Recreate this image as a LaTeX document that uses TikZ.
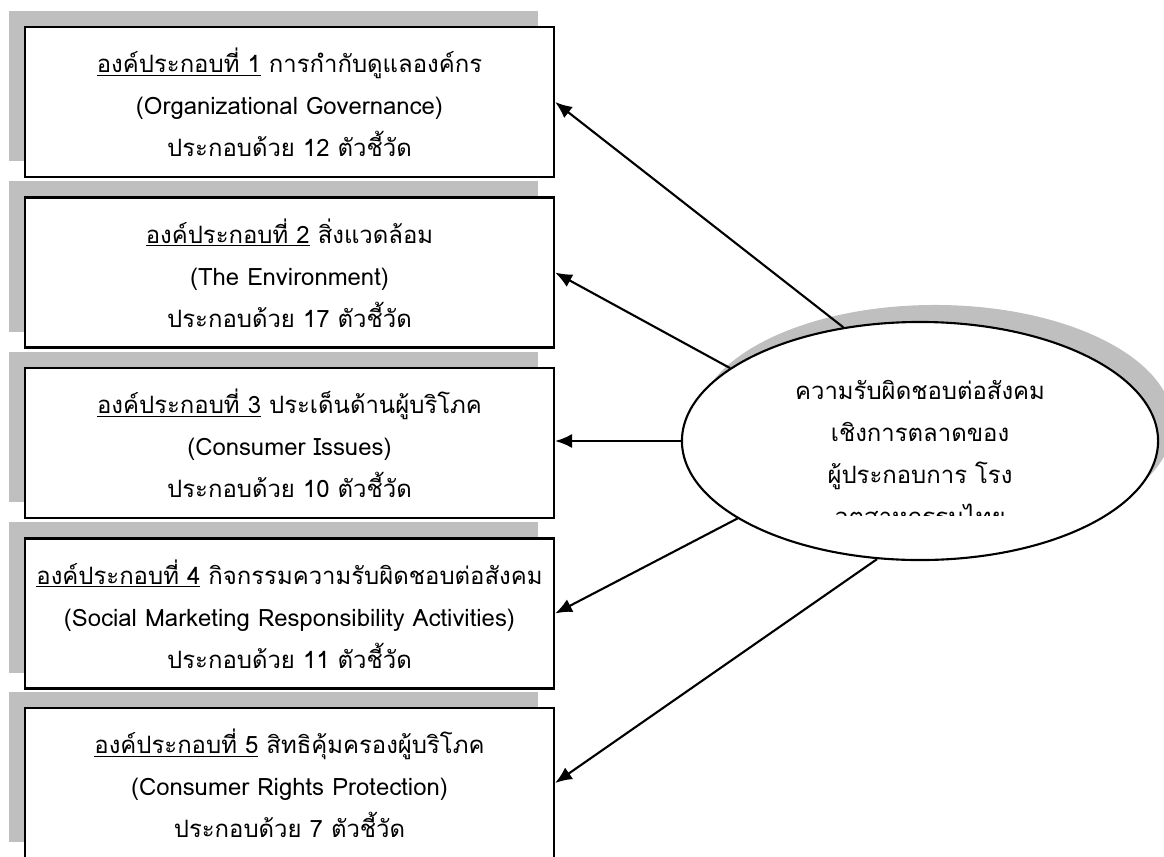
\documentclass[tikz,border=0pt]{standalone}
\usepackage{fontspec}
\newfontfamily\thaifont[Script=Thai]{Loma}
\usetikzlibrary{shapes.geometric,shadows,arrows.meta}

\tikzset{
	factorbox/.style={draw, line width=1.5pt, fill=white, minimum width=13.225cm, minimum height=3.75cm, align=center, text height=82pt, text depth=4pt, font=\thaifont\fontsize{17}{29.9}\selectfont, drop shadow={shadow xshift=-0.4cm, shadow yshift=0.4cm, fill=black!25, opacity=1}},
	mainellipse/.style={ellipse, draw, line width=1.5pt, fill=white, minimum width=11.9cm, minimum height=5.95cm, drop shadow={shadow xshift=0.375cm, shadow yshift=0.425cm, fill=black!25, opacity=1}},
	linkarrow/.style={line width=1.5pt, -{Latex[length=12pt,width=10pt]}}
}

\begin{document}
\begin{tikzpicture}[x=0.025cm, y=-0.025cm]
			%%%%% START %%%%%
			\useasboundingbox (0, 0) rectangle (1164, 856);
			
			\node[factorbox] (fac1) at (289.5, 102) {\underline{องค์ประกอบที่ 1} การกำกับดูแลองค์กร\\(Organizational Governance)\\ประกอบด้วย 12 ตัวชี้วัด};
			\node[factorbox] (fac2) at (289.5, 272.5) {\underline{องค์ประกอบที่ 2} สิ่งแวดล้อม\\(The Environment)\\ประกอบด้วย 17 ตัวชี้วัด};
			\node[factorbox] (fac3) at (289.5, 443) {\underline{องค์ประกอบที่ 3} ประเด็นด้านผู้บริโภค\\(Consumer Issues)\\ประกอบด้วย 10 ตัวชี้วัด};
			\node[factorbox] (fac4) at (289.5, 613.5) {\underline{องค์ประกอบที่ 4} กิจกรรมความรับผิดชอบต่อสังคม\\(Social Marketing Responsibility Activities)\\ประกอบด้วย 11 ตัวชี้วัด};
			\node[factorbox] (fac5) at (289.5, 783) {\underline{องค์ประกอบที่ 5} สิทธิคุ้มครองผู้บริโภค\\(Consumer Rights Protection)\\ประกอบด้วย 7 ตัวชี้วัด};
			
			\node[mainellipse] (csr) at (920, 441) {};
			\begin{scope}
				\clip (680, 300) rectangle (1160, 515);
				\node[align=center, font=\thaifont\fontsize{17}{29.9}\selectfont] (csrtext) at (920, 456) {ความรับผิดชอบต่อสังคม\\เชิงการตลาดของ\\ผู้ประกอบการ โรง\\อุตสาหกรรมไทย};
			\end{scope}
			
			\draw[linkarrow] (csr.124.3) -- (fac1.east);
			\draw[linkarrow] (csr.159.1) -- (fac2.east);
			\draw[linkarrow] (csr.west) -- (csr.west -| fac3.east);
			\draw[linkarrow] (csr.203.9) -- (fac4.east);
			\draw[linkarrow] (csr.250.3) -- (fac5.east);
			
			%%%%% END %%%%%
\end{tikzpicture}
\end{document}
